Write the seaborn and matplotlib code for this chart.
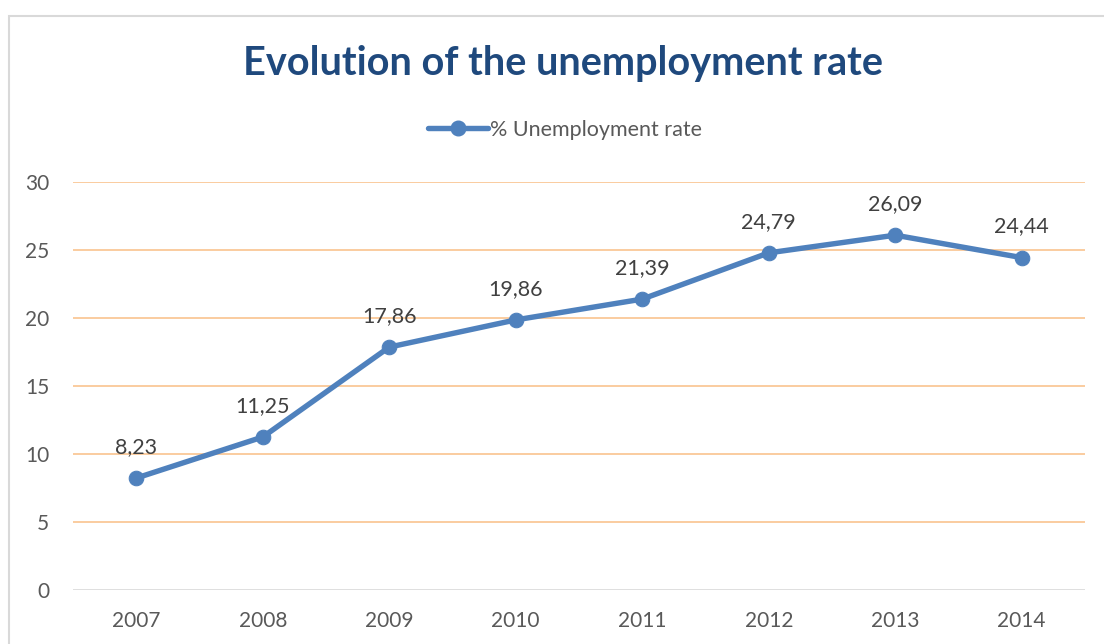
import matplotlib
matplotlib.use("Agg")
import matplotlib.pyplot as plt
import seaborn as sns
import pandas as pd
from matplotlib.patches import Rectangle
from matplotlib.lines import Line2D

years = ["2007", "2008", "2009", "2010", "2011", "2012", "2013", "2014"]
rates = [8.23, 11.25, 17.86, 19.86, 21.39, 24.79, 26.09, 24.44]
labels = ["8,23", "11,25", "17,86", "19,86", "21,39", "24,79", "26,09", "24,44"]
yticks = [0, 5, 10, 15, 20, 25, 30]
series_name = "% Unemployment rate"
title = "Evolution of the unemployment rate"

sns.set_theme(style="white")
plt.rcParams['font.family'] = ['Lato', 'DejaVu Sans']

df = pd.DataFrame({"year": years, "rate": rates})

fig = plt.figure(figsize=(11.04, 6.44), dpi=100)
ax = fig.add_axes([73/1104, 1-590/644, (1085-73)/1104, (590-182)/644])

line_color = "#4F81BD"
sns.lineplot(data=df, x="year", y="rate", ax=ax, color=line_color, linewidth=3.9,
             marker="o", markersize=10.5, markeredgecolor=line_color, sort=False)

ax.set_xlim(-0.5, len(years) - 0.5)
ax.set_ylim(0, 30)
ax.set_yticks(yticks)
ax.set_yticklabels([str(t) for t in yticks])
for t in yticks:
    ax.axhline(t, color="#D9D9D9" if t == 0 else "#F9C38F", linewidth=1.2, zorder=0)

for s in ax.spines.values():
    s.set_visible(False)
ax.tick_params(axis='both', length=0, labelsize=15, colors="#595959")
ax.tick_params(axis='x', pad=15)
ax.tick_params(axis='y', pad=17)
ax.set_xlabel("")
ax.set_ylabel("")

for i, (v, lab) in enumerate(zip(rates, labels)):
    ax.annotate(lab, (i, v), xytext=(0, 22.5), textcoords="offset points",
                ha="center", va="center", fontsize=15.5, color="#404040")

fig.text(563/1104, 1-64/644, title, ha="center", va="center",
         fontsize=28.5, fontweight="bold", color="#1F497D")

handle = Line2D([0], [0], color=line_color, linewidth=3.9, marker="o", markersize=10.5)
fig.legend([handle], [series_name], loc="center", bbox_to_anchor=(565/1104, 1-130/644),
           frameon=False, fontsize=15.5, labelcolor="#595959", handlelength=2.8,
           handletextpad=0.1)

fig.patches.append(Rectangle((9/1104, -0.1), 1.2, 1 - 16/644 + 0.1, transform=fig.transFigure,
                             fill=False, edgecolor="#D9D9D9", linewidth=1.5))

fig.savefig("out.png", dpi=100)
